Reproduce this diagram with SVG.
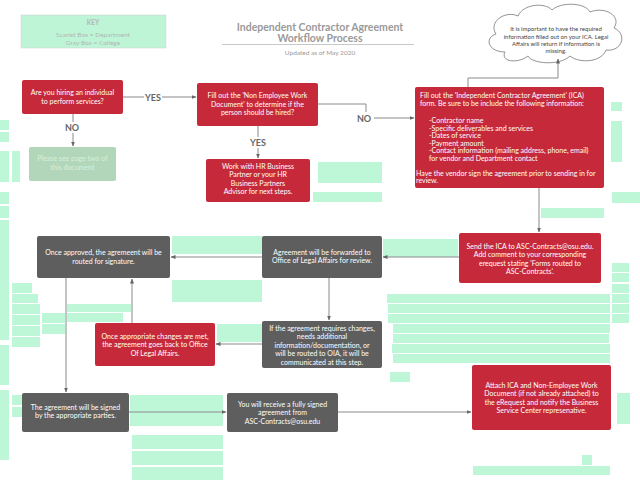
<svg xmlns="http://www.w3.org/2000/svg" width="640" height="495" viewBox="0 0 640 495">
<defs>
<style>
text{font-family:Lato,"Open Sans","Liberation Sans",sans-serif;}
.t{font-size:7px;fill:#fff;text-anchor:middle;}
.tl{font-size:7px;fill:#fff;}
.red{fill:#c62a3a;}
.gray{fill:#5e5e5e;}
.g{fill:#bdf7d8;}
.c{fill:none;stroke:#8a8a8a;stroke-width:1;}
.lbl{font-size:9px;font-weight:bold;fill:#666;text-anchor:middle;}
</style>
<marker id="ah" viewBox="0 0 10 10" refX="9" refY="5" markerWidth="5" markerHeight="5" orient="auto"><path d="M0,1 L10,5 L0,9 z" fill="#666"/></marker>
</defs>
<rect width="640" height="495" fill="#fff"/>
<g id="greens">
<rect class="g" x="0" y="120" width="9" height="10"/><rect class="g" x="0" y="132" width="9" height="10"/>
<rect class="g" x="0" y="151" width="9" height="31"/><rect class="g" x="12" y="151" width="8" height="31"/>
<rect class="g" x="0" y="192" width="9" height="12"/><rect class="g" x="0" y="206" width="9" height="12"/>
<rect class="g" x="0" y="220" width="9" height="120"/><rect class="g" x="0" y="345" width="9" height="40"/>
<rect class="g" x="0" y="390" width="9" height="70"/>
<rect class="g" x="12" y="283" width="20" height="10"/><rect class="g" x="12" y="294" width="26" height="9"/>
<rect class="g" x="12" y="304" width="28" height="10"/><rect class="g" x="12" y="315" width="28" height="10"/>
<rect class="g" x="12" y="326" width="28" height="10"/><rect class="g" x="12" y="337" width="28" height="10"/>
<rect class="g" x="42" y="313" width="23" height="10"/><rect class="g" x="42" y="324" width="23" height="10"/>
<rect class="g" x="67" y="304" width="64" height="8"/><rect class="g" x="67" y="313" width="56" height="9"/>
<rect class="g" x="12" y="395" width="10" height="10"/><rect class="g" x="12" y="407" width="10" height="10"/>
<rect class="g" x="318" y="162" width="64" height="21"/><rect class="g" x="313" y="192" width="69" height="10"/>
<rect class="g" x="611" y="102" width="11" height="9"/><rect class="g" x="611" y="121" width="11" height="41"/>
<rect class="g" x="612" y="192" width="28" height="11"/><rect class="g" x="541" y="208" width="63" height="10"/>
<rect class="g" x="172" y="236" width="90" height="18"/><rect class="g" x="172" y="280" width="90" height="22"/>
<rect class="g" x="383" y="239" width="75" height="18"/>
<rect class="g" x="387" y="294" width="223" height="9"/><rect class="g" x="388" y="304" width="222" height="9"/>
<rect class="g" x="388" y="314" width="222" height="9"/><rect class="g" x="393" y="324" width="217" height="9"/>
<rect class="g" x="393" y="334" width="216" height="9"/><rect class="g" x="392" y="344" width="218" height="9"/>
<rect class="g" x="393" y="354" width="217" height="9"/>
<rect class="g" x="612" y="263" width="17" height="9"/><rect class="g" x="612" y="273" width="17" height="9"/>
<rect class="g" x="612" y="284" width="17" height="9"/><rect class="g" x="612" y="294" width="17" height="9"/>
<rect class="g" x="612" y="304" width="17" height="9"/><rect class="g" x="612" y="314" width="17" height="9"/>
<rect class="g" x="217" y="324" width="45" height="18"/>
<rect class="g" x="390" y="372" width="20" height="10"/>
<rect class="g" x="130" y="395" width="93" height="31"/>
<rect class="g" x="132" y="435" width="91" height="14"/><rect class="g" x="132" y="451" width="91" height="14"/>
<rect class="g" x="132" y="467" width="91" height="13"/>
<rect class="g" x="617" y="393" width="13" height="31"/>
<rect class="g" x="582" y="455" width="10" height="10"/><rect class="g" x="473" y="466" width="137" height="9"/>
</g>
<g id="key">
<rect x="21" y="15" width="145" height="33" fill="#bdf5d6" stroke="#d0d0d0" stroke-width="0.5"/>
<text x="93" y="25" style="font-size:6.5px;fill:#b5b5b5;text-anchor:middle;font-weight:bold">KEY</text>
<text x="93" y="37" style="font-size:6.5px;fill:#b5b5b5;text-anchor:middle">Scarlet Box = Department</text>
<text x="93" y="45" style="font-size:6.5px;fill:#b5b5b5;text-anchor:middle">Gray Box = College</text>
</g>
<g id="title">
<text x="320" y="31" style="font-size:10.5px;font-weight:bold;fill:#9a9a9a;text-anchor:middle">Independent Contractor Agreement</text>
<text x="320" y="42" style="font-size:10.5px;font-weight:bold;fill:#9a9a9a;text-anchor:middle">Workflow Process</text>
<line x1="222" y1="44.5" x2="414" y2="44.5" stroke="#c8c8c8" stroke-width="1"/>
<text x="320" y="55" style="font-size:6.5px;fill:#9a9a9a;text-anchor:middle">Updated as of May 2020</text>
</g>
<g id="cloud">
<path d="M505,52 C488,52 484,38 496,34 C488,22 505,10 518,16 C523,4 545,2 552,10 C560,2 585,2 590,12 C605,6 622,16 614,28 C628,34 622,52 606,50 C602,62 580,64 570,56 C560,66 532,64 528,56 C518,64 500,62 505,52 Z" fill="#fff" stroke="#777" stroke-width="0.8"/>
<text x="556" y="31" style="font-size:6px;fill:#444;text-anchor:middle">It is important to have the required</text>
<text x="556" y="39" style="font-size:6px;fill:#444;text-anchor:middle">information filled out on your ICA. Legal</text>
<text x="556" y="46" style="font-size:6px;fill:#444;text-anchor:middle">Affairs will return if information is</text>
<text x="556" y="53" style="font-size:6px;fill:#444;text-anchor:middle">missing.</text>
</g>
<g id="connectors">
<path class="c" d="M123,97 H196" marker-end="url(#ah)"/>
<path class="c" d="M73,114 V146" marker-end="url(#ah)"/>
<path class="c" d="M258,126 V158" marker-end="url(#ah)"/>
<path class="c" d="M318,104 H366 V112"/>
<path class="c" d="M374,118 H414" marker-end="url(#ah)"/>
<path class="c" d="M468,87 V78 H558 V59" marker-end="url(#ah)"/>
<path class="c" d="M539,188 V232" marker-end="url(#ah)"/>
<path class="c" d="M459,257 H383" marker-end="url(#ah)"/>
<path class="c" d="M262,257 H171" marker-end="url(#ah)"/>
<path class="c" d="M329,278 V320" marker-end="url(#ah)"/>
<path class="c" d="M262,344 H216" marker-end="url(#ah)"/>
<path class="c" d="M132,323 V279" marker-end="url(#ah)"/>
<path class="c" d="M66,278 V392" marker-end="url(#ah)"/>
<path class="c" d="M129,412 H226" marker-end="url(#ah)"/>
<path class="c" d="M338,412 H471" marker-end="url(#ah)"/>
<rect x="144" y="91" width="18" height="11" fill="#fff"/>
<text class="lbl" x="153" y="100.5">YES</text>
<rect x="63" y="122" width="18" height="11" fill="#fff"/>
<text class="lbl" x="72" y="131">NO</text>
<rect x="248" y="137" width="20" height="11" fill="#fff"/>
<text class="lbl" x="258" y="146">YES</text>
<text class="lbl" x="364" y="121.5">NO</text>
</g>
<g id="n-hire">
<rect class="red" x="22" y="80" width="101" height="34" rx="2"/>
<text class="t" x="72.5" y="95">Are you hiring an individual</text>
<text class="t" x="72.5" y="104">to perform services?</text>
</g>
<g id="n-page2">
<rect x="29" y="147" width="87" height="34" rx="2" fill="#b2d6b9"/>
<text x="72.5" y="161" style="font-size:7px;fill:#d8f0dc;text-anchor:middle">Please see page two of</text>
<text x="72.5" y="170" style="font-size:7px;fill:#d8f0dc;text-anchor:middle">this document</text>
</g>
<g id="n-nonemp">
<rect class="red" x="197" y="83" width="121" height="43" rx="2"/>
<text class="t" x="257.5" y="98">Fill out the 'Non Employee Work</text>
<text class="t" x="257.5" y="106.5">Document' to determine if the</text>
<text class="t" x="257.5" y="115">person should be hired?</text>
</g>
<g id="n-hr">
<rect class="red" x="206" y="159" width="104" height="43" rx="2"/>
<text class="t" x="258" y="168.5">Work with HR Business</text>
<text class="t" x="258" y="177">Partner or your HR</text>
<text class="t" x="258" y="185.5">Business Partners</text>
<text class="t" x="258" y="194">Advisor for next steps.</text>
</g>
<g id="n-ica">
<rect class="red" x="415" y="87" width="189" height="101" rx="2"/>
<text class="tl" x="420" y="98">Fill out the 'Independent Contractor Agreement' (ICA)</text>
<text class="tl" x="420" y="106">form. Be sure to be include the following information:</text>
<text class="tl" x="429" y="122.5">-Contractor name</text>
<text class="tl" x="429" y="130.5">-Specific deliverables and services</text>
<text class="tl" x="429" y="138">-Dates of service</text>
<text class="tl" x="429" y="145.5">-Payment amount</text>
<text class="tl" x="429" y="153">-Contact information (mailing address, phone, email)</text>
<text class="tl" x="429" y="161">for vendor and Department contact</text>
<text class="tl" x="416" y="175.5">Have the vendor sign the agreement prior to sending in for</text>
<text class="tl" x="416" y="183">review.</text>
</g>
<g id="n-send">
<rect class="red" x="459" y="233" width="142" height="50" rx="2"/>
<text class="t" x="530" y="248.5">Send the ICA to ASC-Contracts@osu.edu.</text>
<text class="t" x="530" y="257">Add comment to your corresponding</text>
<text class="t" x="530" y="265.5">erequest stating 'Forms routed to</text>
<text class="t" x="530" y="274">ASC-Contracts'.</text>
</g>
<g id="n-forward">
<rect class="gray" x="262" y="236" width="120" height="42" rx="2"/>
<text class="t" x="322" y="254.5">Agreement will be forwarded to</text>
<text class="t" x="322" y="263">Office of Legal Affairs for  review.</text>
</g>
<g id="n-approved">
<rect class="gray" x="37" y="236" width="133" height="42" rx="2"/>
<text class="t" x="103.5" y="254.5">Once approved, the agremeent will be</text>
<text class="t" x="103.5" y="263.5">routed for signature.</text>
</g>
<g id="n-changes">
<rect class="gray" x="262" y="321" width="120" height="47" rx="2"/>
<text class="t" x="322" y="330.5">If the agreement  requires changes,</text>
<text class="t" x="322" y="339">needs additional</text>
<text class="t" x="322" y="347.5">information/documentation, or</text>
<text class="t" x="322" y="356">will be routed to OIA, it will be</text>
<text class="t" x="322" y="364.5">communicated at this step.</text>
</g>
<g id="n-met">
<rect class="red" x="95" y="323" width="120" height="43" rx="2"/>
<text class="t" x="155" y="338.5">Once appropriate changes are met,</text>
<text class="t" x="155" y="347">the agreement goes back to Office</text>
<text class="t" x="155" y="355.5">Of Legal Affairs.</text>
</g>
<g id="n-signed">
<rect class="gray" x="22" y="393" width="107" height="39" rx="2"/>
<text class="t" x="75.5" y="409.5">The agreement will be signed</text>
<text class="t" x="75.5" y="418">by the appropriate parties.</text>
</g>
<g id="n-receive">
<rect class="gray" x="227" y="393" width="111" height="39" rx="2"/>
<text class="t" x="282.5" y="406.5">You will receive a fully signed</text>
<text class="t" x="282.5" y="415">agreement from</text>
<text class="t" x="282.5" y="423.5">ASC-Contracts@osu.edu</text>
</g>
<g id="n-attach">
<rect class="red" x="472" y="365" width="139" height="65" rx="2"/>
<text class="t" x="541.5" y="387.5">Attach ICA and Non-Employee Work</text>
<text class="t" x="541.5" y="396">Document (if not already attached) to</text>
<text class="t" x="541.5" y="404.5">the eRequest and notify the Business</text>
<text class="t" x="541.5" y="413">Service Center represenative.</text>
</g>
</svg>
